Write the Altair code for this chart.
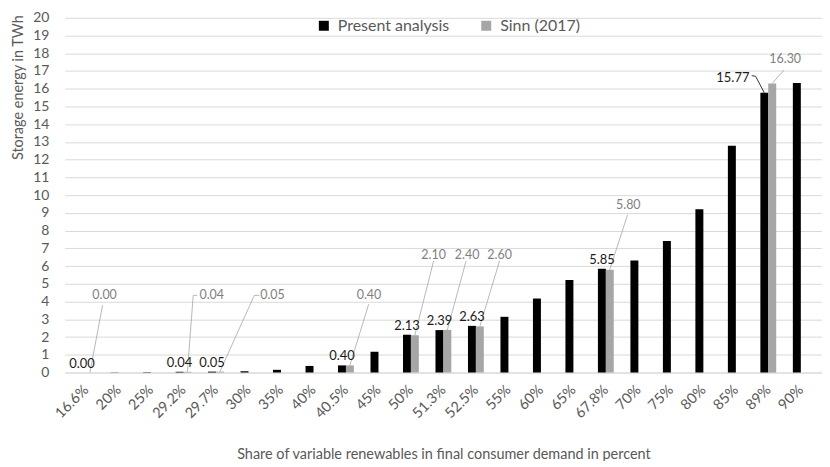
import json
import altair as alt
import pandas as pd

# ---------------- data ----------------
categories = ["16.6%", "20%", "25%", "29.2%", "29.7%", "30%", "35%", "40%", "40.5%", "45%",
              "50%", "51.3%", "52.5%", "55%", "60%", "65%", "67.8%", "70%", "75%", "80%",
              "85%", "89%", "90%"]
present = [0.00, 0.01, 0.02, 0.04, 0.05, 0.07, 0.15, 0.37, 0.40, 1.17,
           2.13, 2.39, 2.63, 3.14, 4.17, 5.22, 5.85, 6.31, 7.42, 9.20,
           12.78, 15.77, 16.33]
sinn = [0.00, None, None, 0.04, 0.05, None, None, None, 0.40, None,
        2.10, 2.40, 2.60, None, None, None, 5.80, None, None, None,
        None, 16.30, None]

S1 = "Present analysis"
S2 = "Sinn (2017)"

# ---------------- annotation layout (label placement, in category steps / TWh) ----------------
gray_label_dx = [0.57, 0.87, 1.74, 0.71, 0.70, 0.73, 0.73, 0.69, 0.52]
gray_label_y = [4.35, 4.35, 4.35, 4.35, 6.63, 6.63, 6.63, 9.46, 17.65]
gray_leader = [
    [(0.51, 3.80)],
    [(0.42, 4.35), (0.30, 4.35)],
    [(1.33, 4.35), (1.18, 4.35)],
    [(0.70, 3.85)],
    [(0.70, 6.30)],
    [(0.70, 6.30)],
    [(0.73, 6.30)],
    [(0.67, 8.90)],
    [(0.48, 17.05)],
]
black_special_idx = 21
black_special_dx = -1.09
black_special_y = 16.63
black_special_leader = [(-0.51, 16.74), (-0.39, 16.70)]

OFF = 0.121

rows = []
for i, c in enumerate(categories):
    rows.append(dict(idx=i, cat=c, series=S1, value=present[i]))
    if sinn[i] is not None:
        rows.append(dict(idx=i, cat=c, series=S2, value=sinn[i]))
df = pd.DataFrame(rows)

sinn_idx = [i for i, v in enumerate(sinn) if v is not None]

blk = pd.DataFrame([dict(idx=i, value=present[i], text=f"{present[i]:.2f}")
                    for i in sinn_idx if i != black_special_idx])
gry = pd.DataFrame([dict(pos=i + gray_label_dx[k], value=gray_label_y[k], text=f"{sinn[i]:.2f}")
                    for k, i in enumerate(sinn_idx)])
blk_sp = pd.DataFrame([dict(pos=black_special_idx + black_special_dx, value=black_special_y,
                            text=f"{present[black_special_idx]:.2f}")])
lrows = []
for k, i in enumerate(sinn_idx):
    pts = [(i + dx, y) for dx, y in gray_leader[k]] + [(i + OFF, sinn[i])]
    for o, (x, y) in enumerate(pts):
        lrows.append(dict(lid=f"g{k}", k=o, pos=x, value=y, col="#a6a6a6"))
pts = [(black_special_idx + dx, y) for dx, y in black_special_leader] + \
      [(black_special_idx - OFF, present[black_special_idx])]
for o, (x, y) in enumerate(pts):
    lrows.append(dict(lid="b", k=o, pos=x, value=y, col="#000000"))
lead = pd.DataFrame(lrows)

FONT = "Lato"
xscale = alt.Scale(domain=[-0.5, len(categories) - 0.5], nice=False, zero=False)
yscale = alt.Scale(domain=[0, 20], nice=False)

label_expr = f"{json.dumps(categories)}[datum.value]"

XTITLE = "Share of variable renewables in final consumer demand in percent"
YTITLE = "Storage energy in TWh"

xaxis = alt.Axis(values=list(range(len(categories))), labelExpr=label_expr,
                 labelAngle=315, labelAlign="right", labelBaseline="middle",
                 labelPadding=15, ticks=False, grid=False,
                 domainColor="#d9d9d9", labelColor="#595959", labelFontSize=14.5,
                 labelFont=FONT, titleFont=FONT, titleFontSize=14.5,
                 titleFontWeight="normal", titleColor="#595959",
                 titleY=75, titleBaseline="top", labelOverlap=False)
yaxis = alt.Axis(values=list(range(21)),
                 grid=True, gridColor="#d9d9d9", domain=False, ticks=False,
                 labelColor="#595959", labelFontSize=14, labelFont=FONT,
                 labelPadding=16, labelOverlap=False, titleFont=FONT, titleFontSize=14.5,
                 titleFontWeight="normal", titleColor="#595959",
                 titleAnchor="end", titleAlign="right", titleBaseline="middle",
                 titleX=-46, titleY=-3, titleAngle=270)


def X():
    return alt.X("pos:Q", scale=xscale, axis=xaxis, title=XTITLE)


def Y():
    return alt.Y("value:Q", scale=yscale, axis=yaxis, title=YTITLE)


bars = alt.Chart(df).transform_calculate(
    pos=f"datum.idx + (datum.series === '{S2}' ? {OFF} : -{OFF})"
).mark_bar(size=8).encode(
    x=X(),
    y=Y(),
    color=alt.Color("series:N", scale=alt.Scale(domain=[S1, S2], range=["#000000", "#a6a6a6"]),
                    legend=alt.Legend(title=None, orient="none", legendX=252, legendY=0,
                                      direction="horizontal", symbolType="square",
                                      symbolSize=100, labelFontSize=16, labelFont=FONT,
                                      labelColor="#595959", labelOffset=6, columnPadding=29,
                                      symbolStrokeWidth=0)),
)

leaders = alt.Chart(lead).mark_line(strokeWidth=0.8).encode(
    x=X(),
    y=Y(),
    detail="lid:N",
    order="k:Q",
    color=alt.Color("col:N", scale=None),
)

blk_text = alt.Chart(blk).transform_calculate(pos=f"datum.idx - {OFF}").mark_text(
    font=FONT, fontSize=13, color="#1a1a1a", baseline="bottom", dy=-2
).encode(x=X(), y=Y(), text="text:N")

gry_text = alt.Chart(gry).mark_text(
    font=FONT, fontSize=12.5, color="#7f7f7f", baseline="middle"
).encode(x=X(), y=Y(), text="text:N")

sp_text = alt.Chart(blk_sp).mark_text(
    font=FONT, fontSize=13, color="#1a1a1a", baseline="middle"
).encode(x=X(), y=Y(), text="text:N")

chart = alt.layer(bars, leaders, blk_text, gry_text, sp_text).properties(
    width=760, height=356,
    autosize=alt.AutoSizeParams(type="none"),
    padding={"left": 57, "top": 9, "right": 0, "bottom": 88},
    background="white",
).configure_view(stroke=None)

chart.save("out.html", embed_options={"renderer": "svg", "actions": False})
